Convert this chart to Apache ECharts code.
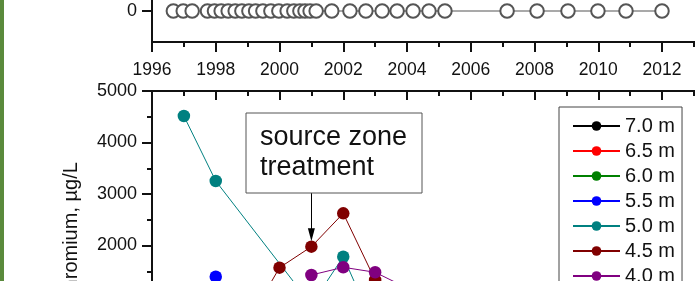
<!DOCTYPE html>
<html>
<head>
<meta charset="utf-8">
<script src="https://cdn.jsdelivr.net/npm/echarts@6/dist/echarts.min.js"></script>
<style>
  html, body { margin: 0; padding: 0; background: #fff; }
  #chart { width: 695px; height: 281px; }
</style>
</head>
<body>
<div id="chart"></div>
<script>
// top panel: sampling dates, all plotted at 0
var topYearsNoLine = [1996.67, 1996.98, 1997.26, 1997.74, 1997.96, 1998.17, 1998.39, 1998.61,
  1998.82, 1999.04, 1999.25, 1999.48, 1999.73, 1999.98, 2000.24, 2000.45, 2000.64, 2000.8, 2000.96];
var topYearsLine = [2001.15, 2001.64, 2002.21, 2002.71, 2003.22, 2003.69, 2004.19, 2004.69,
  2005.19, 2007.14, 2008.08, 2009.05, 2009.99, 2010.87, 2012.0];

// bottom panel: chromium by depth, [year, ug/L]
var depths = ["7.0 m", "6.5 m", "6.0 m", "5.5 m", "5.0 m", "4.5 m", "4.0 m"];
var depthColors = ["#000000", "#ff0000", "#008000", "#0000ff", "#008080", "#800000", "#800080"];
var cr70 = [];
var cr65 = [];
var cr60 = [];
var cr55 = [[1998, 1394]];
var cr50 = [[1997, 4515], [1998, 3252], [2001, 850], [2002, 1782], [2003, 380]];
var cr45 = [[1999, 500], [2000, 1569], [2001, 1977], [2002, 2625], [2003, 1330], [2004, 700]];
var cr40 = [[2001, 1427], [2002, 1577], [2003, 1480], [2004, 1175]];

var treatmentYear = 2001;
var font = "Liberation Sans, Arial, sans-serif";
var ink = "#111";
var plain = function (v) { return String(v); };

var chart = echarts.init(document.getElementById("chart"));

function xAxisBase(grid) {
  return {
    type: "value",
    gridIndex: grid,
    min: 1996,
    max: 2014,
    interval: 2,
    axisLine: { onZero: false, lineStyle: { color: ink, width: 2 } },
    splitLine: { show: false },
    minorSplitLine: { show: false },
  };
}

var top0 = xAxisBase(0);
top0.position = "bottom";
top0.axisTick = { length: 10, lineStyle: { color: ink, width: 2 } };
top0.minorTick = { show: true, splitNumber: 2, length: 5, lineStyle: { color: ink, width: 2 } };
top0.axisLabel = { fontSize: 17.5, color: ink, fontFamily: font, margin: 19, formatter: plain };

var top1 = xAxisBase(1);
top1.position = "top";
top1.axisTick = { inside: true, length: 9, lineStyle: { color: ink, width: 2 } };
top1.minorTick = { show: true, splitNumber: 2, length: 5, lineStyle: { color: ink, width: 2 } };
top1.axisLabel = { show: false };

var openCircle = { color: "#555", borderColor: "#555", borderWidth: 1.4 };

var seriesList = [
  {
    type: "line",
    xAxisIndex: 0,
    yAxisIndex: 0,
    data: topYearsNoLine.map(function (y) { return [y, 0]; }),
    symbol: "emptyCircle",
    symbolSize: 13.5,
    showAllSymbol: true,
    itemStyle: openCircle,
    lineStyle: { width: 0, opacity: 0 },
  },
  {
    type: "line",
    xAxisIndex: 0,
    yAxisIndex: 0,
    data: topYearsLine.map(function (y) { return [y, 0]; }),
    symbol: "emptyCircle",
    symbolSize: 13.5,
    showAllSymbol: true,
    itemStyle: openCircle,
    lineStyle: { color: "#555", width: 1.2 },
  },
];

var crData = [cr70, cr65, cr60, cr55, cr50, cr45, cr40];
depths.forEach(function (name, i) {
  seriesList.push({
    name: name,
    type: "line",
    xAxisIndex: 1,
    yAxisIndex: 1,
    data: crData[i],
    symbol: "circle",
    symbolSize: 12.5,
    showAllSymbol: true,
    color: depthColors[i],
    itemStyle: { color: depthColors[i] },
    lineStyle: { color: depthColors[i], width: 1 },
  });
});

// arrow from the annotation box down to the treatment point
seriesList[seriesList.length - 2].markLine = {
  silent: true,
  animation: false,
  label: { show: false },
  lineStyle: { color: "#000", width: 1, type: "solid" },
  data: [[
    { coord: [treatmentYear, 3020], symbol: "none" },
    { coord: [treatmentYear, 2210], symbol: "triangle", symbolSize: [7, 13] },
  ]],
};

var option = {
  animation: false,
  backgroundColor: "#fff",
  grid: [
    { left: 152, width: 573.75, top: -20, height: 62, outerBoundsMode: "none", containLabel: false },
    { left: 152, width: 573.75, top: 91, height: 257.5, outerBoundsMode: "none", containLabel: false },
  ],
  xAxis: [top0, top1],
  yAxis: [
    {
      type: "value",
      gridIndex: 0,
      min: -1,
      max: 1,
      interval: 1,
      axisLine: { show: true, onZero: false, lineStyle: { color: ink, width: 2 } },
      axisTick: { show: true, length: 10, customValues: [0], lineStyle: { color: ink, width: 2 } },
      axisLabel: { fontSize: 18, color: ink, fontFamily: font, margin: 15, customValues: [0], formatter: plain },
      splitLine: { show: false },
    },
    {
      type: "value",
      gridIndex: 1,
      min: 0,
      max: 5000,
      interval: 1000,
      axisLine: { show: true, onZero: false, lineStyle: { color: ink, width: 2 } },
      axisTick: { show: true, length: 10, lineStyle: { color: ink, width: 2 } },
      minorTick: { show: true, splitNumber: 2, length: 5, lineStyle: { color: ink, width: 2 } },
      axisLabel: { fontSize: 18, color: ink, fontFamily: font, margin: 15, formatter: plain },
      splitLine: { show: false },
      minorSplitLine: { show: false },
    },
  ],
  legend: {
    data: depths,
    orient: "vertical",
    left: 559,
    top: 107,
    height: 220,
    itemWidth: 47,
    itemHeight: 12,
    itemGap: 5,
    padding: [9, 7, 4, 13],
    borderColor: "#444",
    borderWidth: 1,
    backgroundColor: "#fff",
    textStyle: { fontSize: 20, color: ink, fontFamily: font, lineHeight: 20 },
  },
  graphic: [
    { type: "rect", x: 0, y: 0, shape: { width: 4, height: 281 }, style: { fill: "#5a8a3c" } },
    {
      type: "rect",
      x: 246,
      y: 113,
      shape: { width: 176, height: 80 },
      style: { fill: "#fff", stroke: "#555", lineWidth: 1 },
      z: 10,
    },
    {
      type: "text",
      x: 260,
      y: 123,
      z: 11,
      style: {
        text: "source zone\ntreatment",
        fontSize: 27,
        lineHeight: 30,
        fontFamily: font,
        fill: ink,
        verticalAlign: "top",
      },
    },
    {
      type: "text",
      x: 71,
      y: 233.5,
      rotation: Math.PI / 2,
      style: {
        text: "Chromium, \u00b5g/L",
        fontSize: 20,
        fontFamily: font,
        fill: ink,
        align: "center",
        verticalAlign: "middle",
      },
    },
  ],
  series: seriesList,
};

chart.setOption(option);
</script>
</body>
</html>
